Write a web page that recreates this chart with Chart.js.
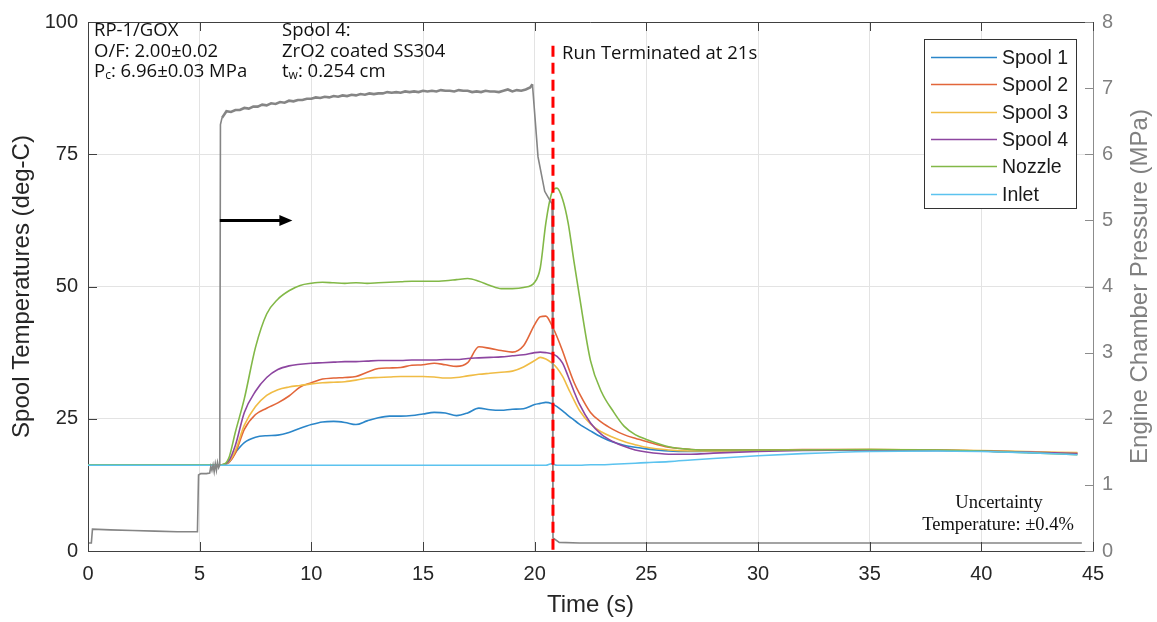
<!DOCTYPE html>
<html>
<head>
<meta charset="utf-8">
<script src="https://cdn.jsdelivr.net/npm/chart.js@4.4.1/dist/chart.umd.min.js"></script>
<style>
  html, body { margin: 0; padding: 0; background: #ffffff; }
  #wrap { width: 1157px; height: 622px; }
</style>
</head>
<body>
<div id="wrap"><canvas id="chart" width="1157" height="622"></canvas></div>
<script>
// ---- hot-fire test record: spool temperatures (deg-C) and chamber pressure (MPa) ----
const timeTemp = [0, 5, 6.0, 6.3, 6.6, 7.0, 7.5, 8.0, 8.5, 9.0, 9.5, 10.0, 10.5, 11.0, 11.5, 12.0, 12.5, 13.0, 13.5,
  14.0, 14.5, 15.0, 15.5, 16.0, 16.5, 17.0, 17.5, 18.0, 18.5, 19.0, 19.5, 20.0, 20.25, 20.5, 20.75, 21.0, 21.25,
  21.5, 21.75, 22.0, 22.5, 23.0, 23.5, 24.0, 24.5, 25.0, 26.0, 27.0, 28.0, 30.0, 32.0, 35.0, 38.0, 40.0, 42.0, 44.3];

const spool1 = [16.3, 16.3, 16.3, 16.7, 18.6, 20.5, 21.5, 21.8, 21.9, 22.4, 23.2, 23.9, 24.4, 24.5, 24.3, 23.9, 24.6,
  25.2, 25.5, 25.5, 25.6, 25.9, 26.2, 26.1, 25.6, 26.1, 27.0, 26.7, 26.6, 26.8, 26.9, 27.7, 27.9, 28.1, 27.9, 27.3,
  26.5, 25.6, 24.8, 24.0, 22.7, 21.5, 20.6, 20.0, 19.6, 19.3, 18.9, 18.8, 18.9, 19.0, 19.1, 19.1, 19.0, 18.9, 18.7, 18.4];

const spool2 = [16.3, 16.3, 16.3, 16.7, 18.5, 23.0, 25.8, 27.0, 28.0, 29.3, 31.0, 31.8, 32.5, 32.7, 32.8, 33.0, 33.8,
  34.5, 34.6, 34.7, 35.1, 35.2, 35.5, 35.2, 34.9, 35.6, 38.6, 38.3, 37.9, 37.6, 38.8, 42.8, 44.3, 44.4, 42.8, 40.5,
  37.8, 34.8, 32.0, 29.8, 26.2, 24.3, 23.0, 22.0, 21.3, 20.7, 19.6, 19.2, 19.1, 19.1, 19.2, 19.2, 19.1, 18.9, 18.7, 18.5];

const spool3 = [16.3, 16.3, 16.3, 16.8, 19.0, 23.8, 27.3, 29.4, 30.5, 31.0, 31.3, 31.6, 31.8, 31.9, 32.0, 32.3, 32.7,
  32.8, 32.9, 33.0, 33.0, 33.0, 32.9, 32.7, 32.8, 33.1, 33.4, 33.6, 33.8, 34.0, 34.8, 36.0, 36.6, 36.3, 35.6, 34.6,
  33.0, 30.8, 28.6, 26.6, 24.0, 22.5, 21.5, 20.7, 20.1, 19.6, 19.1, 18.9, 18.9, 19.0, 19.1, 19.2, 19.1, 19.0, 18.8, 18.6];

const spool4 = [16.3, 16.3, 16.3, 17.0, 20.0, 26.2, 30.2, 32.8, 34.3, 35.0, 35.3, 35.5, 35.6, 35.7, 35.8, 35.8, 35.9,
  36.0, 36.0, 36.0, 36.1, 36.1, 36.1, 36.2, 36.2, 36.4, 36.5, 36.6, 36.7, 36.9, 37.1, 37.5, 37.6, 37.5, 37.3, 36.8,
  35.5, 33.0, 30.3, 27.8, 24.2, 22.0, 20.7, 19.8, 19.1, 18.7, 18.3, 18.3, 18.5, 18.8, 19.0, 19.1, 19.0, 18.9, 18.7, 18.4];

const nozzle = [16.3, 16.3, 16.3, 17.5, 22.5, 28.8, 38.5, 44.8, 47.6, 49.2, 50.2, 50.6, 50.8, 50.7, 50.6, 50.7, 50.6,
  50.7, 50.8, 50.9, 51.0, 51.0, 51.0, 51.1, 51.3, 51.5, 51.0, 50.2, 49.6, 49.6, 49.8, 50.8, 53.5, 62.0, 67.5, 68.6,
  66.5, 62.0, 55.0, 48.3, 36.0, 30.0, 26.5, 23.6, 22.0, 21.1, 19.7, 19.2, 19.1, 19.1, 19.1, 19.2, 19.1, 18.9, 18.6, 18.2];

const inlet = [16.2, 16.2, 16.2, 16.2, 16.2, 16.2, 16.2, 16.2, 16.2, 16.2, 16.2, 16.2, 16.2, 16.2, 16.2, 16.2, 16.2,
  16.2, 16.2, 16.2, 16.2, 16.2, 16.2, 16.2, 16.2, 16.2, 16.2, 16.2, 16.2, 16.2, 16.2, 16.2, 16.2, 16.2, 16.5, 16.2,
  16.2, 16.2, 16.2, 16.2, 16.3, 16.3, 16.4, 16.5, 16.6, 16.7, 16.9, 17.2, 17.5, 18.0, 18.4, 18.8, 18.9, 18.8, 18.6, 18.2];

const timePress = [0, 0.15, 0.2, 1, 2, 3, 4, 4.9, 4.95, 5.05, 5.3, 5.45, 5.5, 5.55, 5.6, 5.65, 5.7, 5.75, 5.8, 5.85, 5.9, 5.93,
  6.0, 6.2, 6.4, 6.6, 6.8, 7.0, 7.2, 7.4, 7.6, 7.8, 8.0, 8.2, 8.4, 8.6, 8.8, 9.0, 9.2, 9.4, 9.6, 9.8,
  10.0, 10.2, 10.4, 10.6, 10.8, 11.0, 11.2, 11.4, 11.6, 11.8, 12.0, 12.2, 12.4, 12.6, 12.8, 13.0, 13.2, 13.4, 13.6, 13.8,
  14.0, 14.2, 14.4, 14.6, 14.8, 15.0, 15.2, 15.4, 15.6, 15.8, 16.0, 16.2, 16.4, 16.6, 16.8, 17.0, 17.2, 17.4, 17.6, 17.8,
  18.0, 18.2, 18.4, 18.6, 18.8, 19.0, 19.2, 19.4, 19.6, 19.8, 19.9, 20.15, 20.45, 20.7, 20.78, 20.82, 21.1, 22, 30, 44.5];

const pressure = [0.12, 0.12, 0.33, 0.32, 0.31, 0.30, 0.29, 0.29, 1.15, 1.17, 1.17, 1.18, 1.28, 1.22, 1.30, 1.20, 1.32, 1.22, 1.34, 1.26, 1.30, 6.45,
  6.55, 6.65, 6.64, 6.67, 6.67, 6.70, 6.69, 6.72, 6.72, 6.75, 6.74, 6.77, 6.76, 6.79, 6.78, 6.81, 6.80, 6.82, 6.82, 6.84,
  6.84, 6.86, 6.85, 6.87, 6.86, 6.88, 6.87, 6.89, 6.88, 6.90, 6.89, 6.91, 6.90, 6.92, 6.91, 6.92, 6.92, 6.94, 6.93, 6.94,
  6.93, 6.95, 6.94, 6.95, 6.94, 6.96, 6.95, 6.96, 6.95, 6.97, 6.96, 6.96, 6.95, 6.97, 6.96, 6.96, 6.94, 6.95, 6.94, 6.96,
  6.95, 6.95, 6.94, 6.96, 6.98, 6.95, 6.97, 6.96, 6.98, 7.01, 7.06, 5.96, 5.44, 5.29, 5.25, 0.20, 0.13, 0.12, 0.12, 0.12];

const seriesLabels = ['Spool 1', 'Spool 2', 'Spool 3', 'Spool 4', 'Nozzle', 'Inlet'];
const seriesValues = [spool1, spool2, spool3, spool4, nozzle, inlet];
const seriesColors = ['#2b86c9', '#e2663a', '#f0bc45', '#8d46a0', '#82b847', '#5cc3ef'];

const timeTicks = [0, 5, 10, 15, 20, 25, 30, 35, 40, 45];
const tempTicks = [0, 25, 50, 75, 100];
const pressTicks = [0, 1, 2, 3, 4, 5, 6, 7, 8];

const terminationTime = 20.82;
const terminationSpan = [0, 95.5];
const arrowFrom = [5.9, 62.5];
const arrowTo = [9.15, 62.5];
const steadyFiring = [6.0, 19.9];

// ---- datasets ----
const pairs = (xs, ys) => xs.map((x, i) => ({ x: x, y: ys[i] }));

const datasets = seriesLabels.map((label, i) => ({
  label: label,
  data: pairs(timeTemp, seriesValues[i]),
  borderColor: seriesColors[i],
  borderWidth: 1.6,
  pointRadius: 0,
  cubicInterpolationMode: 'monotone',
  yAxisID: 'y',
  order: 10 - i,
  inLegend: true
}));

datasets.push({
  label: 'Chamber pressure',
  data: pairs(timePress, pressure),
  borderColor: '#858585',
  borderWidth: 1.6,
  pointRadius: 0,
  tension: 0,
  yAxisID: 'y2',
  order: 1,
  // the noisy steady-firing trace reads as a thicker band
  segment: {
    borderWidth: (c) => (c.p0.parsed.x >= steadyFiring[0] && c.p1.parsed.x <= steadyFiring[1]) ? 2.6 : 1.6
  }
});

datasets.push({
  label: 'Run terminated',
  data: [{ x: terminationTime, y: terminationSpan[1] }, { x: terminationTime, y: terminationSpan[0] }],
  borderColor: '#ff0000',
  borderWidth: 3,
  borderDash: [11, 6],
  pointRadius: 0,
  yAxisID: 'y',
  order: 0
});

const fixedTicks = (values) => (scale) => { scale.ticks = values.map(v => ({ value: v })); };

// ---- frame, inward tick marks, axis titles, legend and notes ----
const overlay = {
  id: 'overlay',
  afterDraw(chart) {
    const { ctx, chartArea: a, scales } = chart;
    const x = scales.x, y = scales.y, y2 = scales.y2;
    ctx.save();

    // top edge of the box
    ctx.strokeStyle = '#404040';
    ctx.lineWidth = 1;
    ctx.beginPath();
    ctx.moveTo(a.left, a.top + 0.5);
    ctx.lineTo(a.right, a.top + 0.5);
    ctx.stroke();

    // inward tick marks
    ctx.beginPath();
    timeTicks.forEach(v => {
      const px = Math.round(x.getPixelForValue(v)) + 0.5;
      ctx.moveTo(px, a.bottom); ctx.lineTo(px, a.bottom - 9);
      ctx.moveTo(px, a.top); ctx.lineTo(px, a.top + 9);
    });
    tempTicks.forEach(v => {
      const py = Math.round(y.getPixelForValue(v)) + 0.5;
      ctx.moveTo(a.left, py); ctx.lineTo(a.left + 9, py);
    });
    ctx.stroke();
    ctx.strokeStyle = '#8c8c8c';
    ctx.beginPath();
    pressTicks.forEach(v => {
      const py = Math.round(y2.getPixelForValue(v)) + 0.5;
      ctx.moveTo(a.right, py); ctx.lineTo(a.right - 8, py);
    });
    ctx.stroke();

    // axis titles
    ctx.textAlign = 'center';
    ctx.textBaseline = 'middle';
    ctx.fillStyle = '#262626';
    ctx.font = '24px "Liberation Sans", Arial, sans-serif';
    ctx.fillText('Time (s)', (a.left + a.right) / 2, 605);
    const midY = (a.top + a.bottom) / 2;
    ctx.save();
    ctx.translate(22, midY);
    ctx.rotate(-Math.PI / 2);
    ctx.fillText('Spool Temperatures (deg-C)', 0, 0);
    ctx.restore();
    ctx.save();
    ctx.fillStyle = '#808080';
    ctx.translate(1140, midY);
    ctx.rotate(-Math.PI / 2);
    ctx.fillText('Engine Chamber Pressure (MPa)', 0, 0);
    ctx.restore();

    // arrow pointing to the pressure axis
    const ax0 = x.getPixelForValue(arrowFrom[0]), ay0 = y.getPixelForValue(arrowFrom[1]);
    const ax1 = x.getPixelForValue(arrowTo[0]), ay1 = y.getPixelForValue(arrowTo[1]);
    ctx.strokeStyle = '#000000';
    ctx.fillStyle = '#000000';
    ctx.lineWidth = 3;
    ctx.beginPath();
    ctx.moveTo(ax0, ay0); ctx.lineTo(ax1 - 10, ay1);
    ctx.stroke();
    ctx.beginPath();
    ctx.moveTo(ax1, ay1); ctx.lineTo(ax1 - 13, ay1 - 5.5); ctx.lineTo(ax1 - 13, ay1 + 5.5);
    ctx.closePath();
    ctx.fill();

    // legend
    const legendItems = chart.data.datasets.filter(d => d.inLegend);
    const lw = 152, lh = 169;
    const lx = a.right - 17 - lw, ly = a.top + 17;
    ctx.fillStyle = '#ffffff';
    ctx.fillRect(lx, ly, lw, lh);
    ctx.strokeStyle = '#333333';
    ctx.lineWidth = 1;
    ctx.strokeRect(lx + 0.5, ly + 0.5, lw, lh);
    ctx.font = '19.5px "Liberation Sans", Arial, sans-serif';
    ctx.textAlign = 'left';
    ctx.textBaseline = 'middle';
    legendItems.forEach((d, i) => {
      const ry = Math.round(ly + 18 + i * 27.3) + 0.5;
      ctx.strokeStyle = d.borderColor;
      ctx.lineWidth = 1.5;
      ctx.beginPath();
      ctx.moveTo(lx + 7, ry); ctx.lineTo(lx + 73, ry);
      ctx.stroke();
      ctx.fillStyle = '#1a1a1a';
      ctx.fillText(d.label, lx + 78, ry + 1);
    });

    // test conditions
    ctx.fillStyle = '#111111';
    ctx.textBaseline = 'alphabetic';
    const noteFont = '18.5px "Open Sans", sans-serif';
    const subFont = '12px "Open Sans", sans-serif';
    const rich = (parts, px, py) => {
      let cx = px;
      parts.forEach(p => {
        ctx.font = p[1] ? subFont : noteFont;
        ctx.fillText(p[0], cx, py + (p[1] ? 2 : 0));
        cx += ctx.measureText(p[0]).width;
      });
    };
    const nx = a.left + 6, sx = 282;
    rich([['RP-1/GOX']], nx, 36);
    rich([['O/F: 2.00±0.02']], nx, 57);
    rich([['P'], ['c', true], [': 6.96±0.03 MPa']], nx, 77);
    rich([['Spool 4:']], sx, 36);
    rich([['ZrO2 coated SS304']], sx, 57);
    rich([['t'], ['w', true], [': 0.254 cm']], sx, 77);

    const tx = x.getPixelForValue(terminationTime) + 9;
    rich([['Run Terminated at 21s']], tx, 59);

    // measurement uncertainty
    ctx.font = '18.5px "Liberation Serif", "Times New Roman", serif';
    ctx.textAlign = 'center';
    ctx.fillText('Uncertainty', 999, 508);
    ctx.fillText('Temperature: ±0.4%', 998, 530);

    ctx.restore();
  }
};

const tickFont = { family: '"Liberation Sans", Arial, sans-serif', size: 20 };

new Chart(document.getElementById('chart'), {
  type: 'line',
  data: { datasets: datasets },
  options: {
    responsive: false,
    animation: false,
    events: [],
    layout: { padding: { top: 17, left: 0, right: 0, bottom: 0 } },
    plugins: { legend: { display: false }, tooltip: { enabled: false }, title: { display: false } },
    scales: {
      x: {
        type: 'linear',
        min: 0, max: 45,
        afterBuildTicks: fixedTicks(timeTicks),
        afterFit: (s) => { s.height = 71; },
        ticks: { color: '#262626', padding: 11, font: tickFont },
        grid: { color: '#e3e3e3', lineWidth: 1, drawTicks: false },
        border: { color: '#404040', width: 1 }
      },
      y: {
        type: 'linear',
        position: 'left',
        min: 0, max: 100,
        afterBuildTicks: fixedTicks(tempTicks),
        afterFit: (s) => { s.width = 88; },
        ticks: { color: '#262626', padding: 10, font: tickFont },
        grid: { color: '#e3e3e3', lineWidth: 1, drawTicks: false },
        border: { color: '#404040', width: 1 }
      },
      y2: {
        type: 'linear',
        position: 'right',
        min: 0, max: 8,
        afterBuildTicks: fixedTicks(pressTicks),
        afterFit: (s) => { s.width = 64; },
        ticks: { color: '#808080', padding: 9, font: tickFont },
        grid: { drawOnChartArea: false, drawTicks: false },
        border: { color: '#8c8c8c', width: 1 }
      }
    }
  },
  plugins: [overlay]
});
</script>
</body>
</html>
